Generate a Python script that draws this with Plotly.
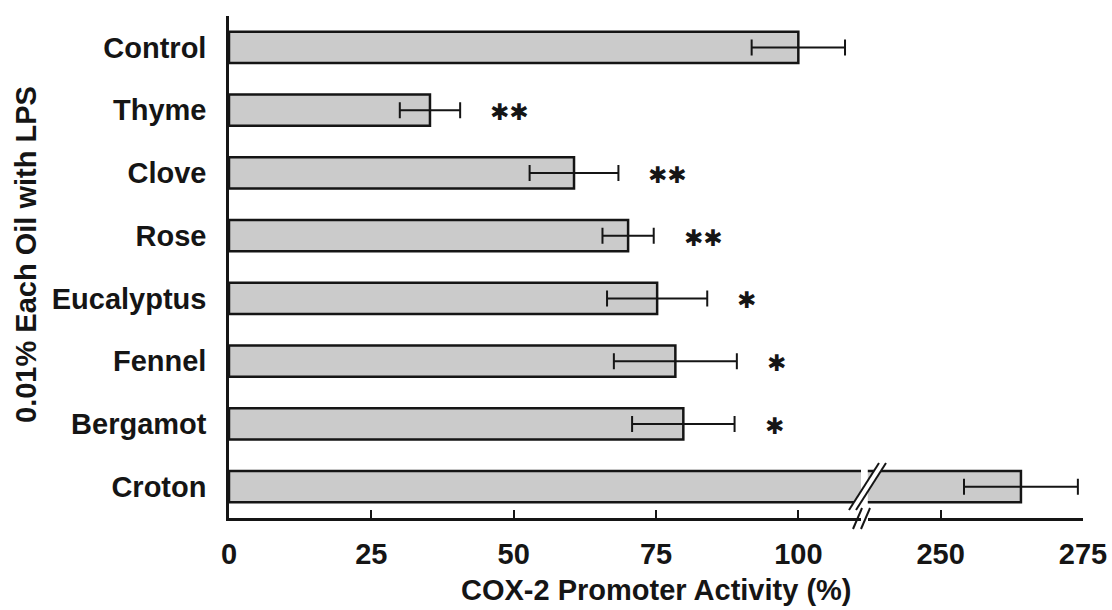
import plotly.graph_objects as go

categories = ["Control", "Thyme", "Clove", "Rose", "Eucalyptus", "Fennel", "Bergamot", "Croton"]
values = [100.0, 35.3, 60.6, 70.1, 75.2, 78.4, 79.8, 264.1]
errors = [8.2, 5.3, 7.8, 4.5, 8.8, 10.8, 9.0, 10.0]
significance = ["", "**", "**", "**", "*", "*", "*", ""]
left_ticks = [0, 25, 50, 75, 100]
right_ticks = [250, 275]
x_title = "COX-2 Promoter Activity (%)"
y_title = "0.01% Each Oil with LPS"

W, H = 1112, 610
ML, MR, MT, MB = 229, 29, 16, 92
PW, PH = W - ML - MR, H - MT - MB
FONT = "Liberation Sans"
INK = "#151515"


def px(x):
    return (x - ML) / PW


def py(y):
    return (H - MB - y) / PH


bar_style = dict(
    orientation="h",
    width=0.5,
    marker=dict(color="#cbcbcb", line=dict(color=INK, width=2.5)),
    error_x=dict(type="data", array=errors, color=INK, thickness=2, width=8),
    showlegend=False,
    hoverinfo="skip",
)

fig = go.Figure()
fig.add_trace(go.Bar(x=values, y=categories, xaxis="x", yaxis="y", **bar_style))
fig.add_trace(go.Bar(x=values, y=categories, xaxis="x2", yaxis="y", **bar_style))

axis_common = dict(
    showline=True, linecolor=INK, linewidth=2.5,
    ticks="inside", ticklen=8, tickwidth=2, tickcolor=INK,
    showgrid=False, zeroline=False, anchor="y", automargin=False,
    tickfont=dict(family=FONT, size=29, color=INK, weight="bold"),
    ticklabelstandoff=8,
)

fig.update_layout(
    width=W, height=H,
    margin=dict(l=ML, r=MR, t=MT, b=MB),
    plot_bgcolor="white", paper_bgcolor="white",
    bargap=0.5,
    xaxis=dict(domain=[0, 0.74], range=[0, 111.0], tickvals=left_ticks, **axis_common),
    xaxis2=dict(domain=[0.748, 1], range=[237.2, 275], tickvals=right_ticks, **axis_common),
    yaxis=dict(
        type="category", categoryorder="array", categoryarray=categories,
        range=[7.5, -0.5], showline=True, linecolor=INK, linewidth=2.5,
        ticks="", showgrid=False, zeroline=False, automargin=False,
        tickfont=dict(family=FONT, size=29, color=INK, weight="bold"),
        ticklabelstandoff=14,
    ),
)

annotations = []
for cat, v, e, s in zip(categories, values, errors, significance):
    if s:
        annotations.append(dict(
            x=v + e, y=cat, xref="x", yref="y", text=s.replace("*", "✱"),
            showarrow=False, xanchor="left", xshift=28, yshift=-2,
            font=dict(family="DejaVu Sans", size=23, color=INK),
        ))
annotations.append(dict(
    x=0.5, y=py(590), xref="paper", yref="paper", text=x_title, showarrow=False,
    xanchor="center", yanchor="middle",
    font=dict(family=FONT, size=29, color=INK, weight="bold"),
))
annotations.append(dict(
    x=px(26), y=py(255), xref="paper", yref="paper", text=y_title, showarrow=False,
    textangle=-90, xanchor="center", yanchor="middle",
    font=dict(family=FONT, size=29, color=INK, weight="bold"),
))
fig.update_layout(annotations=annotations)

# axis-break markers (decoration only)
shapes = []
shapes.append(dict(
    type="path", xref="paper", yref="paper", layer="above",
    path=f"M {px(849)} {py(510)} L {px(879)} {py(463)} L {px(886)} {py(463)} L {px(856)} {py(510)} Z",
    fillcolor="white", line=dict(width=0),
))
for dx in (0, 7):
    shapes.append(dict(type="line", xref="paper", yref="paper", layer="above",
                       x0=px(849 + dx), y0=py(510), x1=px(879 + dx), y1=py(463),
                       line=dict(color=INK, width=2)))
for dx in (0, 8):
    shapes.append(dict(type="line", xref="paper", yref="paper", layer="above",
                       x0=px(853 + dx), y0=py(529), x1=px(862 + dx), y1=py(508),
                       line=dict(color=INK, width=2)))
fig.update_layout(shapes=shapes)

fig.write_html("out.html")
